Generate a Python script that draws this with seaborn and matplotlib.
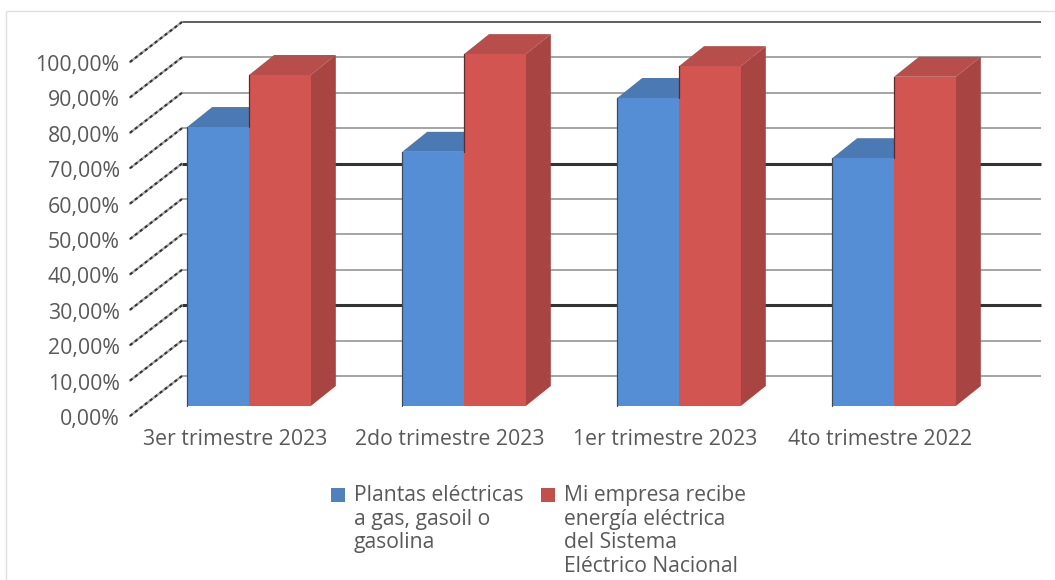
import numpy as np
import pandas as pd
import matplotlib.pyplot as plt
from matplotlib.patches import Polygon, Rectangle
from matplotlib.transforms import ScaledTranslation
import seaborn as sns

# Data
quarters = ['3er trimestre 2023', '2do trimestre 2023', '1er trimestre 2023', '4to trimestre 2022']
plantas = [78.8, 71.8, 87.0, 70.0]
red_sen = [93.5, 99.4, 96.0, 93.0]
legend_labels = ['Plantas eléctricas\na gas, gasoil o\ngasolina',
                 'Mi empresa recibe\nenergía eléctrica\ndel Sistema\nEléctrico Nacional']
y_ticks = [0, 10, 20, 30, 40, 50, 60, 70, 80, 90, 100]
heavy_ticks = [20, 60]

W, H = 1055, 580
GREY = '#595959'
front = ['#558ed5', '#d25552']
top = ['#4a79b3', '#b84e4b']
side = ['#3f6a9e', '#a84442']
legend_colors = ['#4f81bd', '#c0504d']

sns.set_style('white')
plt.rcParams['font.family'] = ['Open Sans', 'DejaVu Sans']

df = pd.DataFrame({
    'trimestre': quarters * 2,
    'valor': plantas + red_sen,
    'serie': ['Plantas'] * 4 + ['Red'] * 4,
})

fig = plt.figure(figsize=(W / 100, H / 100), dpi=100)
# plot box in pixels: x 130-1041, y 22-416
ax = fig.add_axes([130 / W, 1 - 416 / H, (1041 - 130) / W, (416 - 22) / H])
ax.patch.set_alpha(0)

px_x = 215.0   # pixels per category
px_y = 3.54    # pixels per percent

sns.barplot(data=df, x='trimestre', y='valor', hue='serie', palette=front,
            saturation=1, width=0.575, legend=False, ax=ax, zorder=3, linewidth=0)
ax.set_xlim((130 - 249) / px_x, (1041 - 249) / px_x)
ax.set_ylim(-10 / px_y, (406 - 22) / px_y)

# Depth of the 3D look, in data units
bar_dx = 25 / px_x
bar_dy = 20 / px_y
wall_x0 = ax.get_xlim()[0]
wall_dx = 52 / px_x
wall_dy = 40 / px_y
back_shift = wall_dy + ax.get_ylim()[0]

# Back wall and side wall gridlines
for t in y_ticks:
    heavy = t in heavy_ticks
    is_top = t == y_ticks[-1]
    ax.plot([wall_x0 + wall_dx, ax.get_xlim()[1]], [t + back_shift] * 2,
            color='#333333' if heavy or is_top else '#8c8c8c',
            lw=2.2 if heavy else 1.1, zorder=1, clip_on=False, solid_capstyle='butt')
    y0 = t + ax.get_ylim()[0]
    ax.plot([wall_x0, wall_x0 + wall_dx], [y0, y0 + wall_dy], color='#a6a6a6', lw=1.6,
            zorder=1, clip_on=False)
    ax.plot([wall_x0, wall_x0 + wall_dx], [y0, y0 + wall_dy], color='#333333', lw=1.5,
            ls=(0, (1.5, 1.5)), zorder=1, clip_on=False)

# Top and side faces built from the seaborn bars
for s, container in enumerate(ax.containers):
    for k, bar in enumerate(container):
        x0, x1 = bar.get_x(), bar.get_x() + bar.get_width()
        h = bar.get_height()
        ax.add_patch(Polygon([(x0, h), (x1, h), (x1 + bar_dx, h + bar_dy), (x0 + bar_dx, h + bar_dy)],
                             closed=True, fc=top[s], ec='none', zorder=2 + s * 0.5))
        ax.add_patch(Polygon([(x1, 0), (x1 + bar_dx, bar_dy), (x1 + bar_dx, h + bar_dy), (x1, h)],
                             closed=True, fc=side[s], ec='none', zorder=2 + s * 0.5))
        # dark left edge, the red one only shows above the blue bar
        edge_start = 0 if s == 0 else plantas[k]
        ax.plot([x0, x0], [edge_start, h], color='#3c4a5c' if s == 0 else '#5f2a2a', lw=0.9, zorder=3.5)

sns.despine(ax=ax, left=True, bottom=True)
ax.set_xlabel('')
ax.set_ylabel('')
ax.grid(False)
ax.set_yticks(y_ticks)
ax.set_yticklabels([f'{t},00%' for t in y_ticks], fontsize=15.3, color=GREY)
ax.tick_params(axis='y', length=0, pad=7.5)
ax.tick_params(axis='x', length=0, pad=9.5, labelsize=15.3, labelcolor=GREY)
# labels sit on the front edge of the side wall, below and left of the bar plane
shift = ScaledTranslation(0, -11 / 100, fig.dpi_scale_trans)
for lab in ax.get_yticklabels():
    lab.set_transform(lab.get_transform() + shift)
shift_x = ScaledTranslation(-14 / 100, 0, fig.dpi_scale_trans)
for lab in ax.get_xticklabels():
    lab.set_transform(lab.get_transform() + shift_x)

# Legend, top aligned like the original
for i, (label, x_box) in enumerate(zip(legend_labels, [331, 541])):
    fig.add_artist(Rectangle((x_box / W, 1 - 502 / H), 14 / W, 14 / H, fc=legend_colors[i],
                             ec='none', transform=fig.transFigure))
    fig.text((x_box + 23) / W, 1 - 485 / H, label, fontsize=15.2, color=GREY, va='top', ha='left',
             linespacing=1.17)

# Chart frame, cut off by the image on the right and bottom
fig.add_artist(Rectangle((6 / W, -0.05), 1.1, 1.05 - 11 / H, fc='none', ec='#e0e0e0', lw=1.0,
                         transform=fig.transFigure))

fig.savefig('out.png', dpi=100)
